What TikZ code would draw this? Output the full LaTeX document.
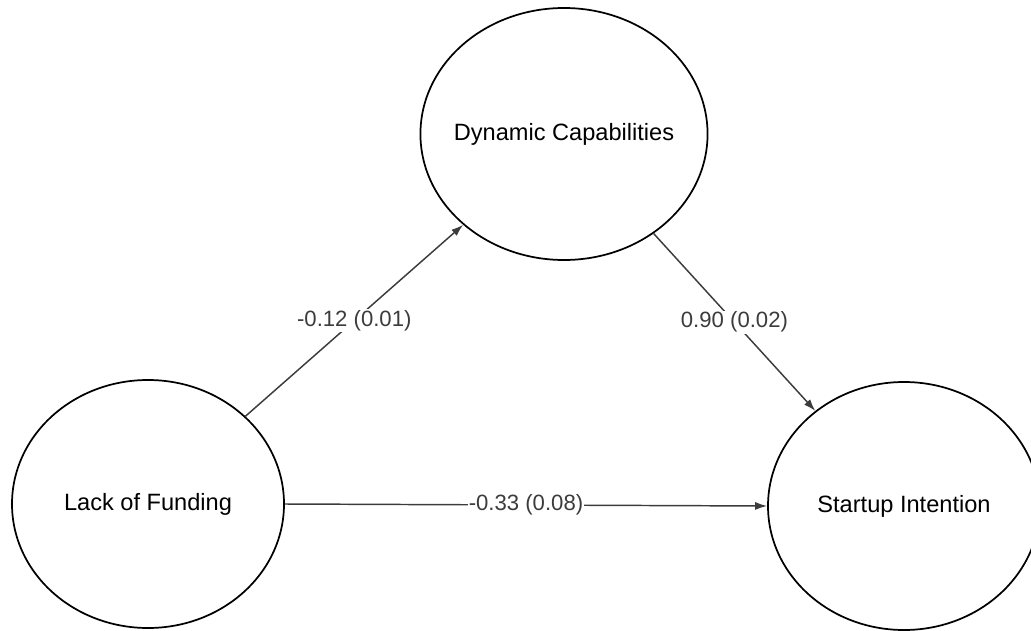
\documentclass[tikz,border=0pt]{standalone}
\usepackage{fontspec}
\setmainfont{Liberation Sans}
\usetikzlibrary{shapes.geometric,arrows.meta}

\tikzset{
  latent/.style={ellipse,draw=black,line width=1.3pt,inner sep=0pt,
    font=\fontsize{17.7}{20}\selectfont},
  path/.style={draw={rgb,255:red,60;green,60;blue,60},line width=1.1pt,
    -{Latex[length=9pt,width=6pt]}},
  coef/.style={fill=white,inner sep=1pt,text={rgb,255:red,60;green,60;blue,60},
    font=\fontsize{16.6}{19}\selectfont}
}

\begin{document}
\begin{tikzpicture}[x=0.75pt,y=0.75pt,yscale=-1,xscale=1]
\useasboundingbox (0,0) rectangle (1031,631);

%Latent variables
\node [latent,inner xsep=-6.5pt,minimum width=213pt,minimum height=189pt] (dyncap) at (564,134) {Dynamic Capabilities};
\node [latent,minimum width=204pt,minimum height=186pt] (funding) at (148,504) {Lack of Funding};
\node [latent,minimum width=204pt,minimum height=186pt] (intent) at (904,506) {Startup Intention};

%Paths
\draw [path] (funding.42.6) -- node [coef] {-0.12 (0.01)} (dyncap.222);
\draw [path] (dyncap.312) -- node [coef] {0.90 (0.02)} (intent.133);
\draw [path] (funding.east) -- node [coef,inner sep=0.5pt] {-0.33 (0.08)} (intent.west);

\end{tikzpicture}
\end{document}
